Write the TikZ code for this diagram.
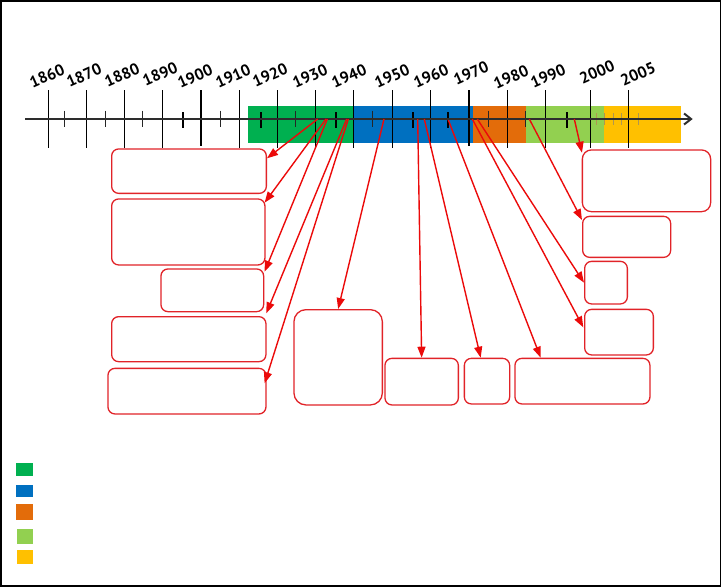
\documentclass[tikz,border=0pt]{standalone}
\usepackage{fontspec}
\newfontfamily\yearfont{PT Sans}
\usetikzlibrary{arrows.meta,calc}
\definecolor{bandgreen}{RGB}{0,176,80}
\definecolor{bandblue}{RGB}{0,112,192}
\definecolor{bandorange}{RGB}{227,108,10}
\definecolor{bandlime}{RGB}{146,208,80}
\definecolor{bandyellow}{RGB}{255,192,0}
\definecolor{axisgrey}{RGB}{45,45,45}
\definecolor{boxred}{RGB}{225,35,40}
\definecolor{arrowred}{RGB}{235,10,10}
\definecolor{faint}{RGB}{175,150,80}
\begin{document}
\begin{tikzpicture}[x=1pt,y=-1pt,
  yearlabel/.style={font=\yearfont\bfseries\fontsize{16}{17}\selectfont, rotate=24, inner sep=0pt, text=black},
  majortick/.style={draw=black, line width=1.1pt},
  boldmajor/.style={draw=black, line width=2pt},
  minortick/.style={draw=black!85, line width=1pt},
  boldminor/.style={draw=black, line width=2pt},
  faintick/.style={draw=faint, line width=0.8pt},
  axisline/.style={draw=axisgrey, line width=2pt, -{Straight Barb[length=7pt,width=11pt,line width=2pt]}},
  redbox/.style={draw=boxred, line width=1.3pt, rounded corners=7pt, fill=white, inner sep=0pt, anchor=north west},
  callout/.style={draw=arrowred, line width=1.4pt, -{Triangle[length=11pt,width=8pt]}},
]
\useasboundingbox (0,0) rectangle (721,587);
\draw[line width=1.5pt] (0.75,0.75) rectangle (720.25,585.75);

% colour bands
\fill[bandgreen]  (248.3,106) rectangle (354,142.5);
\fill[bandblue]   (354,106) rectangle (472.7,142.5);
\fill[bandorange] (472.7,106) rectangle (525.7,142.5);
\fill[bandlime]   (525.7,106) rectangle (604,142.5);
\fill[bandyellow] (604,106) rectangle (680.7,142.5);

% ticks
\foreach \x in {48.7,86.7,124.7,162.7,239.3,277.3,315.3,353.7,392.3,430.3,507.3,545.3,590.3,628.3}
  \draw[majortick] (\x,90) -- (\x,148);
\foreach \x in {201,469}
  \draw[boldmajor] (\x,90) -- (\x,146);
\foreach \x in {64.3,105.3,142.7,220.7,295.7,372.7,488.3,525.3}
  \draw[minortick] (\x,110.5) -- (\x,127);
\foreach \x in {183,261,336,413,447.7,567}
  \draw[boldminor] (\x,112) -- (\x,128);
\foreach \x in {596.3,604,613,621.7,638.7}
  \draw[faintick] (\x,113) -- (\x,125);

% axis
\coordinate (axstart) at (25,119);
\coordinate (axend) at (692.7,119);
\draw[axisline] (axstart) -- (axend);

% year labels
\node[yearlabel] (y1860) at (47,76) {1860};
\node[yearlabel] (y1870) at (84,75.5) {1870};
\node[yearlabel] (y1880) at (122,75) {1880};
\node[yearlabel] (y1890) at (160,74) {1890};
\node[yearlabel] (y1900) at (195,76.5) {1900};
\node[yearlabel] (y1910) at (233,76) {1910};
\node[yearlabel] (y1920) at (270,75) {1920};
\node[yearlabel] (y1930) at (310,76) {1930};
\node[yearlabel] (y1940) at (349,76) {1940};
\node[yearlabel] (y1950) at (392,76) {1950};
\node[yearlabel] (y1960) at (431,76) {1960};
\node[yearlabel] (y1970) at (471,73) {1970};
\node[yearlabel] (y1980) at (511,77) {1980};
\node[yearlabel] (y1990) at (548,76) {1990};
\node[yearlabel] (y2000) at (597,72) {2000};
\node[yearlabel] (y2005) at (638,74) {2005};

% boxes
\node[redbox, minimum width=154.7pt, minimum height=44.4pt] (A) at (111,148.3) {};
\node[redbox, minimum width=153.3pt, minimum height=66pt]   (B) at (111,198.3) {};
\node[redbox, minimum width=102.7pt, minimum height=42.7pt] (C) at (160.3,268.3) {};
\node[redbox, minimum width=154.3pt, minimum height=45pt]   (D) at (111,316) {};
\node[redbox, minimum width=158pt,   minimum height=45.6pt] (E) at (107.3,367.7) {};
\node[redbox, rounded corners=12pt, minimum width=88.4pt, minimum height=95.3pt] (F) at (293.3,309) {};
\node[redbox, minimum width=73.4pt,  minimum height=46.6pt] (G) at (384.3,357.7) {};
\node[redbox, minimum width=45.3pt,  minimum height=45.6pt] (H) at (463.7,357.7) {};
\node[redbox, minimum width=135pt,   minimum height=45.6pt] (I) at (514.3,357.7) {};
\node[redbox, rounded corners=9pt, minimum width=128.3pt, minimum height=61.7pt] (J) at (581.7,149.3) {};
\node[redbox, minimum width=88pt,    minimum height=41pt]   (K) at (582,215.7) {};
\node[redbox, minimum width=42.7pt,  minimum height=42.6pt] (L) at (584,260.7) {};
\node[redbox, minimum width=68.7pt,  minimum height=45.6pt] (M) at (584,308.7) {};

% arrow start points on the axis
\coordinate (sA) at (317.7,119);
\coordinate (sB) at (326,119);
\coordinate (sC) at (327.3,119);
\coordinate (sD) at (346.7,119);
\coordinate (sE) at (348.3,119);
\coordinate (sF) at (384,119);
\coordinate (sG) at (417.7,119);
\coordinate (sH) at (424.3,119);
\coordinate (sI) at (448.3,120);
\coordinate (sM) at (472.3,119);
\coordinate (sL) at (477.3,119);
\coordinate (sK) at (529.3,119);
\coordinate (sJ) at (574.3,119);

% callout arrows
\draw[callout] (sA) -- ($(A.north east)+(0,10)$);
\draw[callout] (sB) -- ($(B.north east)+(-1,4.4)$);
\draw[callout] (sC) -- ($(C.north east)+(0.3,3.4)$);
\draw[callout] (sD) -- ($(D.north east)+(-0.3,-2.7)$);
\draw[callout] (sE) -- ($(E.north east)+(-2,15.6)$);
\draw[callout] (sF) -- (F.north);
\draw[callout] (sG) -- (G.north);
\draw[callout] (sH) -- ($(H.north)+(-6.3,0)$);
\draw[callout] (sI) -- ($(I.north west)+(26.4,0)$);
\draw[callout] (sM) -- ($(M.west)+(-0.7,-4.8)$);
\draw[callout] (sL) -- (L.west);
\draw[callout] (sK) -- ($(K.north west)+(0,4.3)$);
\draw[callout] (sJ) -- ($(J.north west)+(0.3,3.4)$);

% legend swatches
\fill[bandgreen]  (16,463.3) rectangle (32.7,475.7);
\fill[bandblue]   (16,485) rectangle (32.7,496.7);
\fill[bandorange] (16,504) rectangle (32.7,520);
\fill[bandlime]   (17,529) rectangle (32.7,543.7);
\fill[bandyellow] (17,550) rectangle (32.7,564.3);
\end{tikzpicture}
\end{document}
